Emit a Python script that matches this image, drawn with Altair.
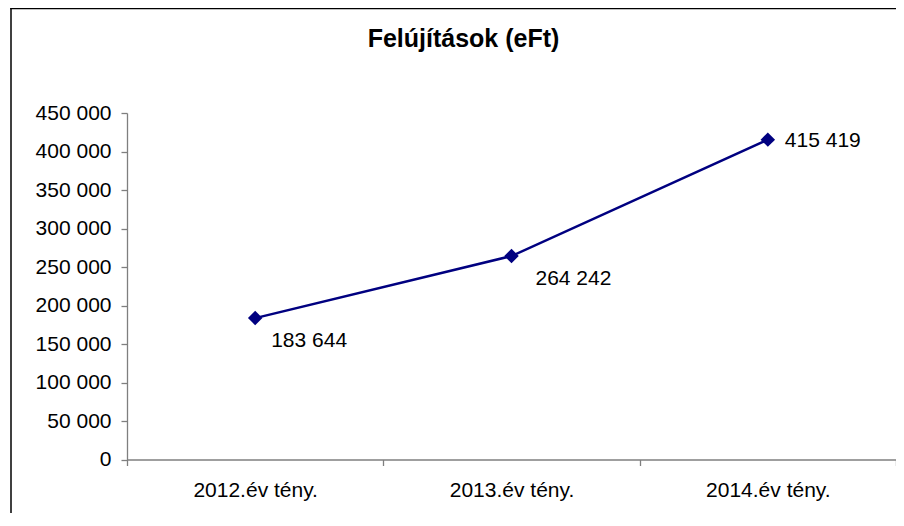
import altair as alt
import pandas as pd

categories = ["2012.év tény.", "2013.év tény.", "2014.év tény."]
values = [183644, 264242, 415419]
title_text = "Felújítások (eFt)"

df = pd.DataFrame({"cat": categories, "val": values, "idx": [0, 1, 2]})

FONT = "Liberation Sans, Arial, sans-serif"
NAVY = "#000080"
FS = 21

base = alt.Chart(df).encode(
    x=alt.X("cat:N", sort=categories, bandPosition=0.5,
            scale=alt.Scale(type="band", paddingInner=0, paddingOuter=0),
            axis=alt.Axis(title=None, labelAngle=0, tickBand="extent",
                          tickSize=6, labelPadding=14, labelFontSize=FS,
                          labelFont=FONT, labelColor="black",
                          domainColor="#7f7f7f", tickColor="#7f7f7f",
                          domainWidth=1.3, tickWidth=1.3)),
    y=alt.Y("val:Q", scale=alt.Scale(domain=[0, 450000], nice=False),
            axis=alt.Axis(title=None, values=list(range(0, 450001, 50000)),
                          labelExpr="replace(format(datum.value, ','), regexp(',', 'g'), ' ')",
                          tickSize=6, labelPadding=10, labelFontSize=FS,
                          labelFont=FONT, labelColor="black", grid=False,
                          domainColor="#7f7f7f", tickColor="#7f7f7f",
                          domainWidth=1.3, tickWidth=1.3)),
)

line = base.mark_line(color=NAVY, strokeWidth=2.5)
pts = base.mark_point(shape="diamond", filled=True, color=NAVY, size=210, opacity=1)

lbl_base = base.transform_calculate(
    lbl="replace(format(datum.val, ','), regexp(',', 'g'), ' ')"
).encode(text="lbl:N")

t1 = lbl_base.transform_filter("datum.idx == 0").mark_text(
    align="left", baseline="alphabetic", dx=16, dy=29, fontSize=FS, font=FONT, color="black")
t2 = lbl_base.transform_filter("datum.idx == 1").mark_text(
    align="left", baseline="alphabetic", dx=24, dy=29, fontSize=FS, font=FONT, color="black")
t3 = lbl_base.transform_filter("datum.idx == 2").mark_text(
    align="left", baseline="alphabetic", dx=17, dy=7, fontSize=FS, font=FONT, color="black")

# outer chart frame (decoration): left and top edges as thin filled rects
frame_left = alt.Chart(df).mark_rect(color="black", strokeWidth=0).encode(
    x=alt.value(-116.75), x2=alt.value(-115.25), y=alt.value(-105.25), y2=alt.value(400)
).transform_filter("datum.idx == 0")
frame_top = alt.Chart(df).mark_rect(color="black", strokeWidth=0).encode(
    x=alt.value(-116.75), x2=alt.value(769), y=alt.value(-105.25), y2=alt.value(-103.75)
).transform_filter("datum.idx == 0")

chart = alt.layer(frame_left, frame_top, line, pts, t1, t2, t3).properties(
    width=769, height=346.5,
    title=alt.TitleParams(title_text, fontSize=25, font=FONT, fontWeight="bold",
                          color="black", anchor="middle", frame="group",
                          baseline="alphabetic", offset=-64, dx=-48),
    autosize=alt.AutoSizeParams(type="none"),
    padding={"left": 119, "top": 105, "right": 0, "bottom": 54},
).configure_view(stroke=None)

chart.save("out.html", embed_options={"renderer": "svg", "actions": False})
